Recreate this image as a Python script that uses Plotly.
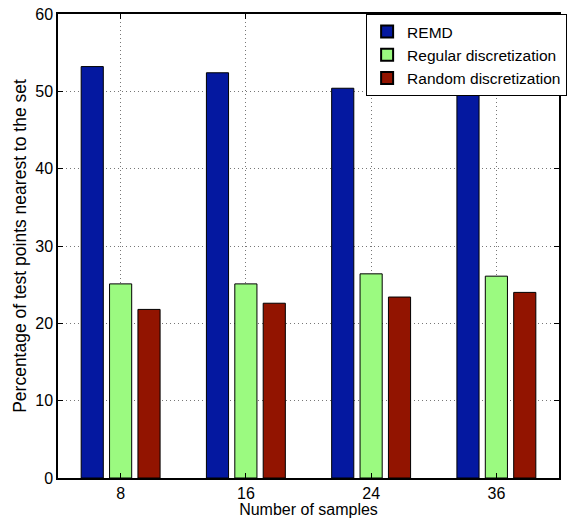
import plotly.graph_objects as go

categories = ["8", "16", "24", "36"]
remd = [53.2, 52.4, 50.4, 50.1]
regular = [25.1, 25.1, 26.4, 26.1]
random_disc = [21.8, 22.6, 23.4, 24.0]
series_names = ["REMD", "Regular discretization", "Random discretization"]
y_ticks = [0, 10, 20, 30, 40, 50, 60]

colors = ["#0418A0", "#9BFA80", "#921400"]
FONT = "Liberation Sans, Arial, Helvetica, sans-serif"

fig = go.Figure()
for name, vals, col in zip(series_names, [remd, regular, random_disc], colors):
    fig.add_trace(go.Bar(
        x=categories, y=vals, name=name,
        marker=dict(color=col, line=dict(color="black", width=1)),
    ))

grid_style = dict(showgrid=True, gridcolor="#777777", griddash="1px,3px", gridwidth=1)

fig.update_layout(
    width=569, height=518,
    margin=dict(l=58, r=2, t=14, b=40),
    paper_bgcolor="white", plot_bgcolor="white",
    barmode="group", bargap=0.32, bargroupgap=0.22,
    font=dict(family=FONT, size=16, color="black"),
    showlegend=True,
    legend=dict(
        x=0.615, y=1.0, xanchor="left", yanchor="top",
        bgcolor="white", bordercolor="black", borderwidth=1,
        font=dict(family=FONT, size=15.5, color="black"),
        tracegroupgap=0, itemsizing="constant",
    ),
    xaxis=dict(
        type="category", range=[-0.5, 3.5],
        showline=True, linecolor="black", linewidth=1.5, mirror="ticks",
        ticks="inside", ticklen=5, tickcolor="black",
        tickfont=dict(size=16),
        title=dict(text="Number of samples", font=dict(size=16), standoff=0),
        **grid_style,
    ),
    yaxis=dict(
        range=[0, 60], tickvals=y_ticks,
        showline=True, linecolor="black", linewidth=1.5, mirror="ticks",
        ticks="inside", ticklen=5, tickcolor="black",
        zeroline=False,
        tickfont=dict(size=16),
        title=dict(text="Percentage of test points nearest to the set", font=dict(size=17.5), standoff=4),
        **grid_style,
    ),
)

fig.write_html(
    "out.html",
    config={"displayModeBar": False},
    post_script="document.body.style.margin='0';document.body.style.overflow='hidden';",
)
